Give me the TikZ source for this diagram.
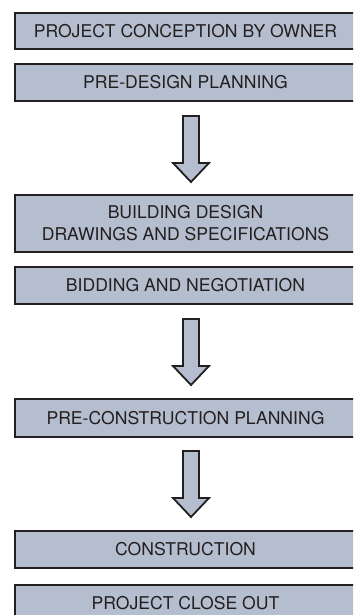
\documentclass[tikz,border=0pt]{standalone}
\usepackage{fontspec}
\setmainfont{TeX Gyre Heros}
\definecolor{stepfill}{RGB}{180,190,206}
\definecolor{inkdark}{RGB}{35,31,32}
\begin{document}
\begin{tikzpicture}[x=1pt,y=1pt,
  stagebox/.style={draw=inkdark, fill=stepfill, line width=2pt,
    minimum width=341pt, inner sep=0pt, align=center,
    font=\fontsize{17.6}{22}\selectfont, text=inkdark},
  flowarrow/.style={draw=inkdark, fill=stepfill, line width=1.8pt, line join=miter},
  blockarrow/.pic={\draw[flowarrow] (-8,0) -- (-8,-47) -- (-18,-47) -- (0,-66)
      -- (18,-47) -- (8,-47) -- (8,0) -- cycle;}]
\useasboundingbox (0,0) rectangle (353,-615);
\begin{scope}
\clip (0,0) rectangle (353,-615);
\node[stagebox, minimum height=36pt] (conception) at (185.5,-31) {PROJECT CONCEPTION BY OWNER};
\node[stagebox, minimum height=37pt] (predesign) at (185.5,-82.5) {PRE-DESIGN PLANNING};
\node[stagebox, minimum height=57pt] (design) at (185.5,-223.5) {BUILDING DESIGN\\DRAWINGS AND SPECIFICATIONS};
\node[stagebox, minimum height=37pt] (bidding) at (185.5,-285.5) {BIDDING AND NEGOTIATION};
\node[stagebox, minimum height=38pt] (precon) at (185.5,-418) {PRE-CONSTRUCTION PLANNING};
\node[stagebox, minimum height=37pt] (construction) at (185.5,-549.5) {CONSTRUCTION};
\node[stagebox, minimum height=37pt] (closeout) at (185.5,-603) {PROJECT CLOSE OUT};
\coordinate (a1) at (191,-116);
\coordinate (a2) at (191,-319);
\coordinate (a3) at (191,-451);
\pic at (a1) {blockarrow};
\pic at (a2) {blockarrow};
\pic at (a3) {blockarrow};
\end{scope}
\end{tikzpicture}
\end{document}
